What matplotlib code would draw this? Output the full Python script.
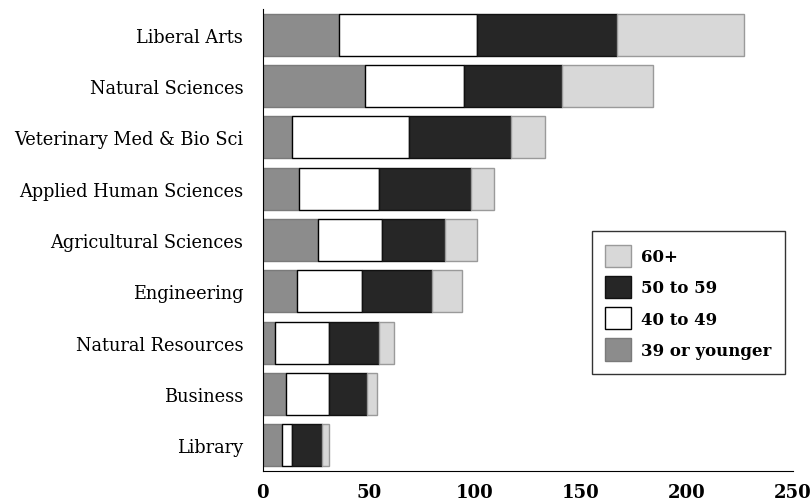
import numpy as np
from matplotlib import pyplot as plt

colleges = ['Liberal Arts', 'Natural Sciences', 'Veterinary Med & Bio Sci',
            'Applied Human Sciences', 'Agricultural Sciences', 'Engineering',
            'Natural Resources', 'Business', 'Library']
under_40 = [36, 48, 14, 17, 26, 16, 6, 11, 9]
age_40_49 = [65, 47, 55, 38, 30, 31, 25, 20, 5]
age_50_59 = [66, 46, 48, 43, 30, 33, 24, 18, 14]
age_60_plus = [60, 43, 16, 11, 15, 14, 7, 5, 3]

series = [
    ('39 or younger', under_40, '#8c8c8c', '#7a7a7a'),
    ('40 to 49', age_40_49, 'white', 'black'),
    ('50 to 59', age_50_59, '#262626', '#111111'),
    ('60+', age_60_plus, '#d8d8d8', '#9a9a9a'),
]

plt.rcParams['font.family'] = ['DejaVu Serif']

fig = plt.figure(figsize=(8.11, 5.02), dpi=100)
ax = fig.add_axes([0.324, 0.06, 0.654, 0.92])

y = np.arange(len(colleges))
left = np.zeros(len(colleges))
for nome, vals, cor, borda in series:
    ax.barh(y, vals, left=left, height=0.82, color=cor, edgecolor=borda,
            linewidth=1, label=nome)
    left += np.array(vals)

ax.set_ylim(len(colleges) - 0.5, -0.5)
ax.set_xlim(0, 250)
ax.set_yticks(y)
ax.set_yticklabels(colleges, fontsize=12.8)
ax.set_xticks([0, 50, 100, 150, 200, 250])
ax.tick_params(axis='y', length=0, pad=14)
ax.tick_params(axis='x', length=0, pad=9, labelsize=13)
for lbl in ax.get_xticklabels():
    lbl.set_fontweight('bold')
ax.spines['top'].set_visible(False)
ax.spines['right'].set_visible(False)

handles, labels = ax.get_legend_handles_labels()
leg = ax.legend(handles[::-1], labels[::-1], loc='upper left',
                bbox_to_anchor=(0.621, 0.519), frameon=True,
                fancybox=False, edgecolor='black', handlelength=1.55,
                handleheight=1.7, labelspacing=0.52, borderpad=0.8,
                handletextpad=0.6, borderaxespad=0,
                prop={'weight': 'bold', 'size': 12})
leg.get_frame().set_linewidth(1)

fig.savefig('out.png')
